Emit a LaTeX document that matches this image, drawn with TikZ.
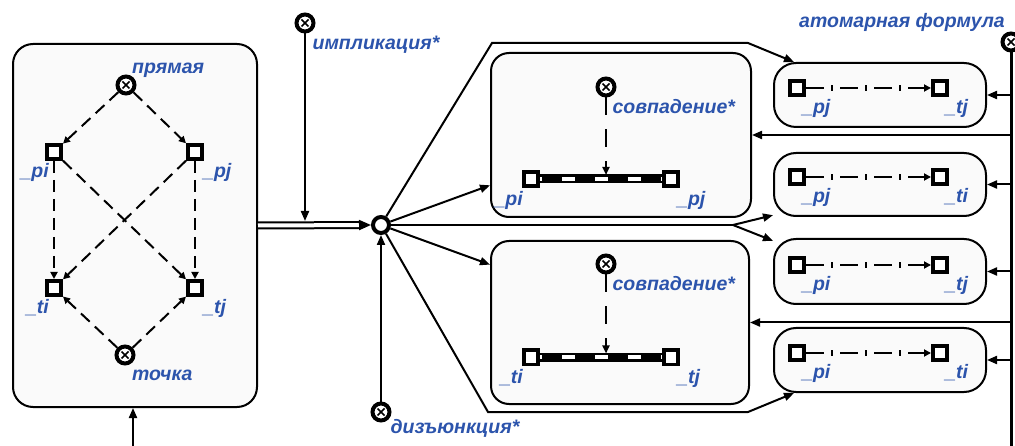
\documentclass[tikz,border=0pt]{standalone}
\usepackage{fontspec}
\setmainfont{Liberation Sans}
\usetikzlibrary{positioning}
\usetikzlibrary{arrows.meta}
\usetikzlibrary{calc}

\definecolor{lblue}{RGB}{44,84,172}
\definecolor{panel}{RGB}{250,250,250}

\begin{document}
\begin{tikzpicture}[x=1pt,y=-1pt,
  frame/.style={rectangle,rounded corners=20pt,draw=black,line width=2pt,fill=panel,inner sep=0pt},
  gate/.style={circle,draw=black,line width=4pt,minimum size=17pt,inner sep=0pt,fill=white,
    path picture={\draw[line width=1.6pt]
      (path picture bounding box.center) ++(-3.5pt,-3.5pt) -- ++(7pt,7pt)
      (path picture bounding box.center) ++(-3.5pt,3.5pt) -- ++(7pt,-7pt);}},
  hubnode/.style={circle,draw=black,line width=4pt,minimum size=16pt,inner sep=0pt,fill=white},
  port/.style={rectangle,draw=black,line width=3.6pt,minimum size=14.4pt,inner sep=0pt,fill=white},
  lbl/.style={font=\fontsize{19.5}{22}\selectfont\bfseries\itshape,text=lblue,inner sep=0pt},
  arr/.style={line width=2pt,-{Triangle[length=10pt,width=8pt]}},
  dasharr/.style={line width=2pt,dash pattern=on 12pt off 7pt,-{Triangle[length=7pt,width=7pt]}},
  droparr/.style={line width=2pt,dash pattern=on 18pt off 14pt,-{Triangle[length=8pt,width=7pt]}},
  link/.style={line width=2pt,dash pattern=on 18pt off 16pt,-{Triangle[length=7pt,width=7pt]},
    postaction={draw,arrows=-,line width=6pt,dash pattern=on 2pt off 32pt,dash phase=9pt}},
  bar/.style={line width=9pt,postaction={draw=white,line width=4pt,dash pattern=on 13pt off 20pt,dash phase=11pt}},
  dbl/.style={line width=2pt,double=white,double distance=4pt,-{Triangle[length=12pt,width=10pt]}},
  bus/.style={line width=3pt}]
\useasboundingbox (0,0) rectangle (1015,446);

% left panel: the four ports between two gates
\node[frame,minimum width=244pt,minimum height=363pt] (panel) at (135,225.5) {};
\node[gate] (direct) at (126,85) {};
\node[lbl,above right=0pt and -1.5pt of direct] (directlbl) {прямая};
\node[port] (pi) at (54,152) {};
\node[port] (pj) at (195,152) {};
\node[port] (ti) at (54,288) {};
\node[port] (tj) at (195,288) {};
\node[gate] (point) at (125,355) {};
\node[lbl,below right=7pt and -0.5pt of point] (pointlbl) {точка};
\node[lbl,below left=2.5pt and -4pt of pi] (pilbl) {\_pi};
\node[lbl,below right=2.5pt and -1pt of pj] (pjlbl) {\_pj};
\node[lbl,below left=2.5pt and -4pt of ti] (tilbl) {\_ti};
\node[lbl,below right=2.5pt and -1pt of tj] (tjlbl) {\_tj};
\path (direct) edge[dasharr] (pi);
\path (direct) edge[dasharr] (pj);
\path (pi) edge[dasharr] (ti);
\path (pj) edge[dasharr] (tj);
\path (pi) edge[dasharr] (tj);
\path (pj) edge[dasharr] (ti);
\path (point) edge[dasharr] (ti);
\path (point) edge[dasharr] (tj);
\coordinate (entry) at (133,446);
\path (entry) edge[arr] (entry |- panel.south);

% implication and disjunction meet in the hub
\node[gate] (impl) at (305,23) {};
\node[lbl,below right=5pt and 0pt of impl] (impllbl) {импликация*};
\node[hubnode] (hub) at (381,225) {};
\draw[dbl] (panel.east) -- (hub.west);
\path (impl) edge[arr,shorten >=4pt] (impl |- hub);
\node[gate] (disj) at (381,412) {};
\node[lbl,below right=-0.5pt and 2pt of disj] (disjlbl) {дизъюнкция*};
\path (disj) edge[arr] (hub);

% coincidence blocks
\node[frame,rounded corners=18pt,minimum width=260pt,minimum height=164pt] (ibox1) at (621,135) {};
\node[gate] (same1) at (606,87) {};
\node[lbl,below right=4.5pt and -1pt of same1] (same1lbl) {совпадение*};
\node[port] (bi1) at (531,179) {};
\node[port] (bj1) at (671,179) {};
\draw[bar] (bi1) -- (bj1);
\draw[droparr,shorten >=-5pt] (same1) -- (same1 |- bi1.north);
\node[lbl,below left=3pt and -1pt of bi1] (bi1lbl) {\_pi};
\node[lbl,below right=3pt and -3pt of bj1] (bj1lbl) {\_pj};

\node[frame,rounded corners=18pt,minimum width=258pt,minimum height=163pt] (ibox2) at (620,322.5) {};
\node[gate] (same2) at (606,264) {};
\node[lbl,below right=4.5pt and -1pt of same2] (same2lbl) {совпадение*};
\node[port] (bi2) at (531,357.5) {};
\node[port] (bj2) at (671,357.5) {};
\draw[bar] (bi2) -- (bj2);
\draw[droparr,shorten >=-5pt] (same2) -- (same2 |- bi2.north);
\node[lbl,below left=3pt and -1pt of bi2] (bi2lbl) {\_ti};
\node[lbl,below right=3pt and -3pt of bj2] (bj2lbl) {\_tj};

% atomic formulas on the bus
\node[gate] (atom) at (1011,42) {};
\node[lbl,above left=2.6pt and -1.4pt of atom] (atomlbl) {атомарная формула};
\coordinate (busend) at (1011,446);
\draw[bus] (atom) -- (busend);

\node[frame,rounded corners=22pt,minimum width=212pt,minimum height=64pt] (at1) at (880,95) {};
\node[frame,rounded corners=22pt,minimum width=212pt,minimum height=63pt] (at2) at (880,184.5) {};
\node[frame,rounded corners=22pt,minimum width=212pt,minimum height=65pt] (at3) at (880,271.5) {};
\node[frame,rounded corners=22pt,minimum width=212pt,minimum height=64pt] (at4) at (880,360) {};

\node[port] (a1l) at (797,88) {};
\node[port] (a1r) at (940,88) {};
\node[port] (a2l) at (797,177) {};
\node[port] (a2r) at (940,177) {};
\node[port] (a3l) at (797,265) {};
\node[port] (a3r) at (940,265) {};
\node[port] (a4l) at (797,353) {};
\node[port] (a4r) at (940,353) {};
\draw[link] (a1l) -- (a1r);
\draw[link] (a2l) -- (a2r);
\draw[link] (a3l) -- (a3r);
\draw[link] (a4l) -- (a4r);
\node[lbl,below right=2pt and -4pt of a1l] (a1llbl) {\_pj};
\node[lbl,below right=2pt and -4pt of a1r] (a1rlbl) {\_tj};
\node[lbl,below right=2pt and -4pt of a2l] (a2llbl) {\_pj};
\node[lbl,below right=2pt and -4pt of a2r] (a2rlbl) {\_ti};
\node[lbl,below right=2pt and -4pt of a3l] (a3llbl) {\_pi};
\node[lbl,below right=2pt and -4pt of a3r] (a3rlbl) {\_tj};
\node[lbl,below right=2pt and -4pt of a4l] (a4llbl) {\_pi};
\node[lbl,below right=2pt and -4pt of a4r] (a4rlbl) {\_ti};

\path (at1.east -| atom) edge[arr] (at1.east);
\path (at2.east -| atom) edge[arr] (at2.east);
\path (at3.east -| atom) edge[arr] (at3.east);
\path (at4.east -| atom) edge[arr] (at4.east);
\path (ibox1.east -| atom) edge[arr] (ibox1.east);
\path (ibox2.east -| atom) edge[arr] (ibox2.east);

% fan out of the hub
\coordinate (ul) at (492,43);
\coordinate (ur) at (748,43);
\coordinate (ll) at (488,412);
\coordinate (lr) at (748,412);
\coordinate (fork) at (733,225);
\draw[arr] (hub) -- (ul) -- (ur) -- (at1.159);
\path (hub) edge[arr] (ibox1.201);
\path (hub) edge[arr] (ibox2.156);
\draw[line width=2pt] (hub) -- (fork);
\path (fork) edge[arr] (at2.196);
\path (fork) edge[arr] (at3.164);
\draw[arr] (hub) -- (ll) -- (lr) -- (at4.201);
\end{tikzpicture}
\end{document}
